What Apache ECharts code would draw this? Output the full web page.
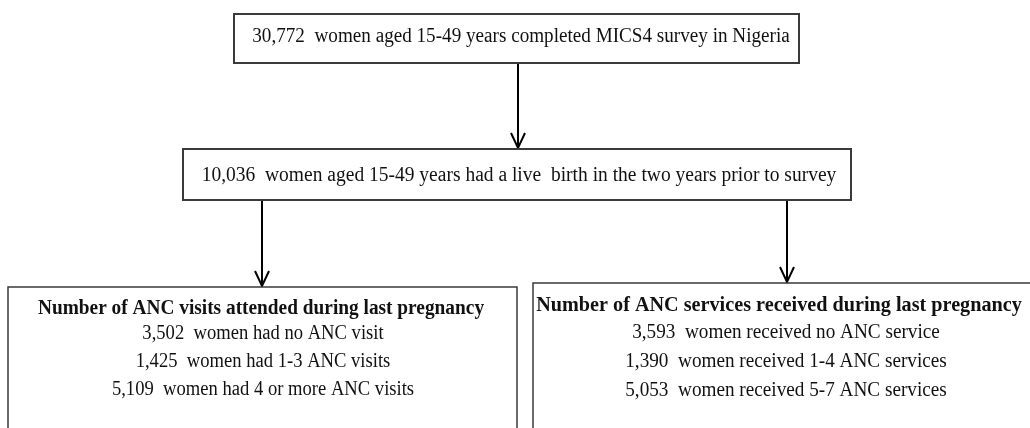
<!DOCTYPE html>
<html>
<head>
<meta charset="utf-8">
<title>ANC flow chart</title>
<script src="https://cdn.jsdelivr.net/npm/echarts@6/dist/echarts.min.js"></script>
<style>
  html, body { margin: 0; padding: 0; background: #fff; }
  #chart { width: 1030px; height: 428px; }
</style>
</head>
<body>
<div id="chart"></div>
<script>
// texts of the flow chart
const topText = ['30,772  women aged 15-49 years completed MICS4 survey in Nigeria'];
const midText = ['10,036  women aged 15-49 years had a live  birth in the two years prior to survey'];
const visitTitle = 'Number of ANC visits attended during last pregnancy';
const visitLines = [
  '3,502  women had no ANC visit',
  '1,425  women had 1-3 ANC visits',
  '5,109  women had 4 or more ANC visits',
];
const serviceTitle = 'Number of ANC services received during last pregnancy';
const serviceLines = [
  '3,593  women received no ANC service',
  '1,390  women received 1-4 ANC services',
  '5,053  women received 5-7 ANC services',
];

const FONT = '"Liberation Serif", "Times New Roman", serif';
const BORDER = '#3a3a3a';

// box: x, y, w, h
function box(x, y, w, h, lw) {
  return {
    type: 'rect',
    shape: { x: x, y: y, width: w, height: h },
    style: { fill: '#fff', stroke: BORDER, lineWidth: lw || 1.5 },
  };
}

// centred text, sx squeezes it a bit like the original scan
function label(x, y, text, size, bold, sx) {
  return {
    type: 'text',
    x: x,
    y: y,
    scaleX: sx || 1,
    style: {
      text: text,
      font: (bold ? 'bold ' : '') + size + 'px ' + FONT,
      fill: '#111',
      align: 'center',
      verticalAlign: 'middle',
    },
  };
}

// vertical arrow with open V head
function arrow(x, y1, y2) {
  return [
    {
      type: 'line',
      shape: { x1: x, y1: y1, x2: x, y2: y2 },
      style: { stroke: '#000', lineWidth: 2 },
    },
    {
      type: 'polyline',
      shape: { points: [[x - 7, y2 - 16], [x, y2 - 1], [x + 7, y2 - 16]] },
      style: { stroke: '#000', lineWidth: 2, fill: null },
    },
  ];
}

const elements = [];
elements.push(...arrow(518, 62, 149));
elements.push(...arrow(262, 200, 287));
elements.push(...arrow(787, 200, 283));

elements.push(box(234, 14, 565, 49, 2));
elements.push(label(521, 37, topText[0], 20, false, 0.957));

elements.push(box(183, 149, 668, 51, 2));
elements.push(label(519, 176, midText[0], 20, false, 0.975));

elements.push(box(8, 287, 509, 160));
elements.push(label(261, 309, visitTitle, 20, true, 0.967));
visitLines.forEach(function (t, i) {
  elements.push(label(263, 334 + i * 28, t, 20, false, 0.93));
});

elements.push(box(533, 283, 520, 160));
elements.push(label(779, 306, serviceTitle, 20, true, 1.01));
serviceLines.forEach(function (t, i) {
  elements.push(label(786, 333 + i * 29, t, 20, false, 0.96));
});

const chart = echarts.init(document.getElementById('chart'));
chart.setOption({
  backgroundColor: '#fff',
  animation: false,
  graphic: { elements: elements },
});
</script>
</body>
</html>
